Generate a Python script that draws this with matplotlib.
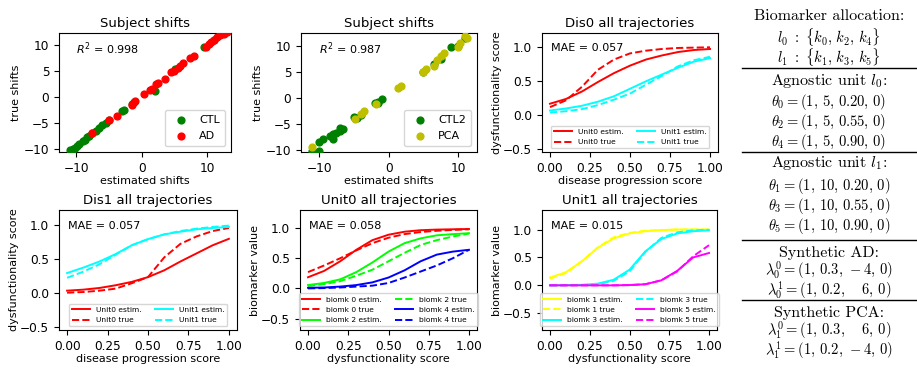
import matplotlib
matplotlib.use("Agg")
import matplotlib.pyplot as plt
import numpy as np

f_s = 8.7
l_s = 8

# ---- subject shifts (estimated, true) ----
ctl_est = [-11, -10.5, -10.2, -9.8, -9.5, -9, -8.7, -8.4, -8, -7.5, -7, -6.5, -6, -5.5, -5,
           -3, -2.7, -1.5, -1.2, 2, 5, 9.5, 11]
ctl_true = [-10.3, -10, -9.8, -9.4, -9, -8.5, -8.2, -7.8, -7.5, -7, -6.6, -6, -5.5, -5, -4.4,
            -2.8, -2.5, -1.3, -1, 1.2, 5.3, 9.6, 11]
ad_est = [-7.5, -5, -3.8, -1.5, -1, 0.3, 1.3, 1.6, 2.2, 2.5, 3.5, 4.5, 4.9, 5.5, 5.8, 6.3,
          7.3, 8, 9.8, 10.2, 10.5, 11, 11.5, 12, 12.5, 13]
ad_true = [-6.9, -4.4, -3.6, -1.5, -0.8, 0.6, 1.4, 1.6, 2.4, 2.7, 3.5, 4.7, 4.9, 5.5, 5.9, 6.5,
           7.5, 7.9, 9.7, 10.2, 10.5, 11, 11.5, 12, 12.2, 12.5]

ctl2_est = [-11, -10, -10, -9.5, -8, -8.5, -8, -7.5, -7, -7, -6.5, -5, -4.5, -4, -2, -1.5,
            -1, -1.5, 5, 6.5, 7.5, 9, 10, 11]
ctl2_true = [-10.3, -10.3, -8.4, -8, -8, -7.3, -7, -6.8, -6.3, -5.8, -6, -3.6, -3.8, -3.3,
             -1, -1, -0.3, -0.8, 5, 6.5, 7.5, 9.7, 10, 11.5]
pca_est = [-11, -4.8, -4, -3.5, -1.8, 1.3, 1.8, 5, 5.3, 6.5, 7, 7.5, 8, 10, 10.3, 11, 11.3]
pca_true = [-9.5, -4, -3.2, -2.5, -1.2, 1.8, 2.3, 5, 5.5, 6, 7.3, 8.0, 8.6, 9.8, 10.5, 11.8, 11.5]

# ---- trajectories, sampled at x = 0, 0.1, ..., 1 ----
xs = [0.0, 0.1, 0.2, 0.3, 0.4, 0.5, 0.6, 0.7, 0.8, 0.9, 1.0]

dis0_u0_est = [0.17, 0.24, 0.35, 0.49, 0.62, 0.73, 0.82, 0.88, 0.93, 0.96, 0.975]
dis0_u0_true = [0.12, 0.22, 0.42, 0.67, 0.82, 0.91, 0.95, 0.975, 0.99, 0.995, 1.0]
dis0_u1_est = [0.07, 0.10, 0.14, 0.20, 0.28, 0.39, 0.50, 0.60, 0.70, 0.79, 0.84]
dis0_u1_true = [0.04, 0.06, 0.09, 0.15, 0.23, 0.32, 0.45, 0.58, 0.72, 0.81, 0.86]

dis1_u0_est = [0.03, 0.045, 0.07, 0.11, 0.16, 0.23, 0.33, 0.46, 0.58, 0.70, 0.795]
dis1_u0_true = [0.0, 0.01, 0.03, 0.06, 0.14, 0.23, 0.52, 0.72, 0.83, 0.91, 0.955]
dis1_u1_est = [0.29, 0.37, 0.46, 0.57, 0.70, 0.79, 0.86, 0.90, 0.935, 0.955, 0.97]
dis1_u1_true = [0.22, 0.31, 0.42, 0.56, 0.70, 0.79, 0.86, 0.91, 0.945, 0.97, 0.99]

b0_est = [0.185, 0.29, 0.45, 0.64, 0.80, 0.89, 0.94, 0.965, 0.975, 0.98, 0.985]
b0_true = [0.27, 0.38, 0.50, 0.63, 0.75, 0.84, 0.90, 0.935, 0.955, 0.97, 0.98]
b2_est = [0.055, 0.09, 0.15, 0.27, 0.43, 0.61, 0.75, 0.83, 0.88, 0.90, 0.915]
b2_true = [0.04, 0.07, 0.12, 0.21, 0.31, 0.45, 0.59, 0.72, 0.80, 0.86, 0.91]
b4_est = [0.01, 0.015, 0.03, 0.055, 0.10, 0.18, 0.30, 0.45, 0.56, 0.61, 0.64]
b4_true = [0.0, 0.005, 0.015, 0.03, 0.045, 0.09, 0.18, 0.28, 0.38, 0.50, 0.64]

b1_est = [0.14, 0.235, 0.43, 0.67, 0.84, 0.93, 0.97, 0.99, 1.0, 1.0, 1.0]
b1_true = [0.12, 0.22, 0.43, 0.68, 0.86, 0.94, 0.98, 0.99, 1.0, 1.0, 1.0]
b3_est = [0.0, 0.005, 0.01, 0.03, 0.10, 0.28, 0.61, 0.83, 0.93, 0.97, 0.985]
b3_true = [0.0, 0.0, 0.005, 0.02, 0.08, 0.25, 0.60, 0.85, 0.95, 0.985, 0.995]
b5_est = [0.0, 0.0, 0.0, 0.0, 0.0, 0.005, 0.02, 0.09, 0.26, 0.50, 0.58]
b5_true = [0.0, 0.0, 0.0, 0.0, 0.0, 0.005, 0.02, 0.09, 0.25, 0.52, 0.72]

mae_vals = ['0.057', '0.057', '0.058', '0.015']
r2_vals = ['0.998', '0.987']

W, H = 917., 369.
fig = plt.figure(figsize=(W / 100, H / 100), dpi=100)


def box(l, r, t, b):
    return fig.add_axes([l / W, 1 - b / H, (r - l) / W, (b - t) / H])


def scatter_panel(ax, x1, y1, x2, y2, lab1, lab2, c2, r2, xlim, ylim):
    ax.scatter(x1, y1, s=24, color='g', label=lab1, zorder=3)
    ax.scatter(x2, y2, s=24, color=c2, label=lab2, zorder=3)
    ax.set_xlim(*xlim)
    ax.set_ylim(*ylim)
    ax.set_xticks([-10, 0, 10])
    ax.set_yticks([-10, -5, 0, 5, 10])
    ax.tick_params(labelsize=f_s)
    ax.set_title('Subject shifts', fontsize=9.5, pad=4)
    ax.set_xlabel('estimated shifts', fontsize=l_s, labelpad=1)
    ax.set_ylabel('true shifts', fontsize=l_s, labelpad=2)
    ax.text(0.1, 0.87, r'$R^2$ = ' + r2, transform=ax.transAxes, fontsize=l_s, va='center')
    ax.legend(loc='lower right', fontsize=8, handletextpad=0.6, borderpad=0.5)


def traj_panel(ax, curves, title, xlabel, ylabel, mae, ylim):
    for y, c, ls, lab in curves:
        ax.plot(xs, y, color=c, linestyle=ls, label=lab, lw=1.4)
    ax.set_xlim(-0.05, 1.05)
    ax.set_ylim(*ylim)
    ax.set_xticks([0, 0.25, 0.5, 0.75, 1.0])
    ax.set_xticklabels(['0.00', '0.25', '0.50', '0.75', '1.00'])
    ax.set_yticks([-0.5, 0.0, 0.5, 1.0])
    ax.tick_params(labelsize=f_s)
    ax.set_title(title, fontsize=9.5, pad=4)
    ax.set_xlabel(xlabel, fontsize=l_s, labelpad=1)
    ax.set_ylabel(ylabel, fontsize=l_s, labelpad=1)
    ax.text(0.05, 0.87, 'MAE = ' + mae, transform=ax.transAxes, fontsize=l_s, va='center')
    ax.legend(loc='lower center', ncol=2, fontsize=5.4, handlelength=2.4,
              columnspacing=1.8, labelspacing=0.55)


ax1 = box(59, 231, 33, 152)
scatter_panel(ax1, ctl_est, ctl_true, ad_est, ad_true, 'CTL', 'AD', 'r', r2_vals[0],
              (-12.6, 13.6), (-10.6, 12.3))
ax2 = box(301, 477, 33, 152)
scatter_panel(ax2, ctl2_est, ctl2_true, pca_est, pca_true, 'CTL2', 'PCA', 'y', r2_vals[1],
              (-12.6, 12.7), (-10.4, 12.4))

ax3 = box(542, 718, 33, 152)
traj_panel(ax3, [(dis0_u0_est, 'r', '-', 'Unit0 estim.'), (dis0_u0_true, 'r', '--', 'Unit0 true'),
                 (dis0_u1_est, 'cyan', '-', 'Unit1 estim.'), (dis0_u1_true, 'cyan', '--', 'Unit1 true')],
           'Dis0 all trajectories', 'disease progression score', 'dysfunctionality score',
           mae_vals[0], (-0.54, 1.21))
ax4 = box(59, 237, 210, 330)
traj_panel(ax4, [(dis1_u0_est, 'r', '-', 'Unit0 estim.'), (dis1_u0_true, 'r', '--', 'Unit0 true'),
                 (dis1_u1_est, 'cyan', '-', 'Unit1 estim.'), (dis1_u1_true, 'cyan', '--', 'Unit1 true')],
           'Dis1 all trajectories', 'disease progression score', 'dysfunctionality score',
           mae_vals[1], (-0.55, 1.22))
ax5 = box(300, 477, 210, 330)
traj_panel(ax5, [(b0_est, 'r', '-', 'biomk 0 estim.'), (b0_true, 'r', '--', 'biomk 0 true'),
                 (b2_est, 'lime', '-', 'biomk 2 estim.'), (b2_true, 'lime', '--', 'biomk 2 true'),
                 (b4_est, 'b', '-', 'biomk 4 estim.'), (b4_true, 'b', '--', 'biomk 4 true')],
           'Unit0 all trajectories', 'dysfunctionality score', 'biomarker value',
           mae_vals[2], (-0.69, 1.3))
ax6 = box(542, 717, 210, 330)
traj_panel(ax6, [(b1_est, 'yellow', '-', 'biomk 1 estim.'), (b1_true, 'yellow', '--', 'biomk 1 true'),
                 (b3_est, 'cyan', '-', 'biomk 3 estim.'), (b3_true, 'cyan', '--', 'biomk 3 true'),
                 (b5_est, 'magenta', '-', 'biomk 5 estim.'), (b5_true, 'magenta', '--', 'biomk 5 true')],
           'Unit1 all trajectories', 'dysfunctionality score', 'biomarker value',
           mae_vals[3], (-0.8, 1.35))

# ---- parameter table on the right (Computer Modern) ----
text_rows = [
    ('Biomarker allocation:', 16),
    (r'Agnostic unit $l_0$:', 81),
    (r'Agnostic unit $l_1$:', 163),
    ('Synthetic AD:', 253),
    ('Synthetic PCA:', 313),
]
math_rows = [
    (r'$l_0\ :\ \{k_0,\,k_2,\,k_4\}$', 37),
    (r'$l_1\ :\ \{k_1,\,k_3,\,k_5\}$', 57),
    (r'$\theta_0 = (1,\,5,\,0.20,\,0)$', 102),
    (r'$\theta_2 = (1,\,5,\,0.55,\,0)$', 122),
    (r'$\theta_4 = (1,\,5,\,0.90,\,0)$', 142),
    (r'$\theta_1 = (1,\,10,\,0.20,\,0)$', 186),
    (r'$\theta_3 = (1,\,10,\,0.55,\,0)$', 206),
    (r'$\theta_5 = (1,\,10,\,0.90,\,0)$', 226),
    (r'$\lambda_0^0 = (1,\,0.3,\,-4,\,0)$', 271),
    (r'$\lambda_0^1 = (1,\,0.2,\ \ \ \,6,\,0)$', 291),
    (r'$\lambda_1^0 = (1,\,0.3,\ \ \ \,6,\,0)$', 331),
    (r'$\lambda_1^1 = (1,\,0.2,\,-4,\,0)$', 351),
]
for s, y in text_rows:
    fig.text(829 / W, 1 - y / H, s, fontsize=11.5, ha='center', va='center',
             family='cmr10', math_fontfamily='cm')
for s, y in math_rows:
    fig.text(829 / W, 1 - y / H, s, fontsize=10.5, ha='center', va='center',
             math_fontfamily='cm')

for y in [68, 152, 240, 300]:
    fig.add_artist(plt.Line2D([742 / W, 1.0], [1 - y / H, 1 - y / H], color='k', lw=1.0))

fig.savefig('out.png', dpi=100)
